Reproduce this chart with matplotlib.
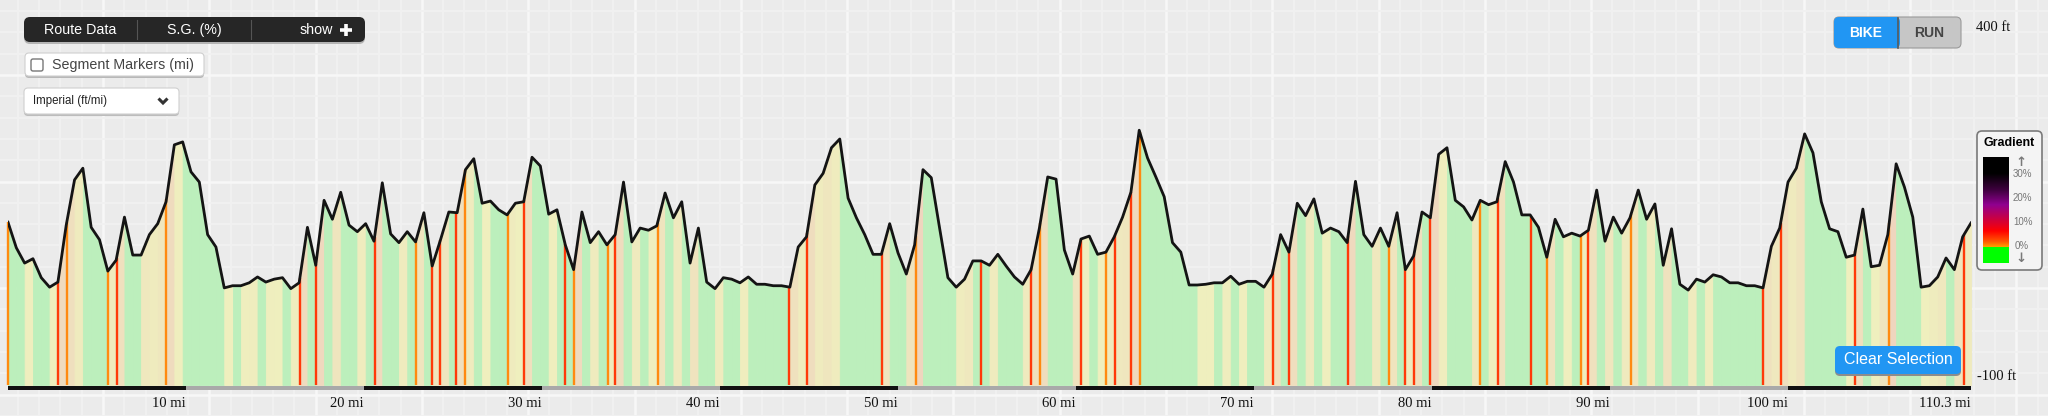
import numpy as np
import matplotlib
matplotlib.use("Agg")
import matplotlib.pyplot as plt
from matplotlib.patches import FancyBboxPatch, Rectangle
from matplotlib.colors import LinearSegmentedColormap, to_rgb

plt.rcParams['font.family'] = ['Liberation Sans', 'DejaVu Sans']
SERIF = ['Liberation Serif', 'DejaVu Serif']

# ---- data ----
total_mi = 110.3
elev_ft = [123, 88, 67, 73, 47, 34, 41, 119, 181, 197, 116, 99, 56, 71, 130, 78, 78, 106, 121, 151,
           229, 233, 192, 178, 106, 89, 33, 36, 36, 40, 48, 41, 45, 47, 32, 40, 116, 64, 153, 127,
           164, 119, 110, 121, 97, 177, 107, 95,
           110, 96, 136, 63, 99, 137, 136, 195, 210, 149, 152, 140, 133, 149, 151, 212, 200, 134, 140, 92,
           58, 137, 95, 110, 92, 106, 178, 96, 115, 112, 118, 163, 129, 151, 67, 115, 41, 32,
           47, 45, 40, 48, 38, 38, 36, 36, 34, 89, 103, 174, 190, 225, 237, 156, 129, 106, 79, 79,
           121, 81, 52, 92, 195, 184, 115, 47, 34, 45, 70, 70, 64, 79, 63, 48, 38, 58,
           115, 185, 182, 85, 52, 100, 104, 79, 82, 103, 130, 164, 249, 211, 185, 158, 95, 82, 37, 37,
           38, 40, 40, 49, 38, 42, 42, 34, 52, 106, 82, 149, 132, 155, 108, 115, 110, 95,
           179, 106, 90, 115, 90, 136, 58, 77, 137, 129, 216, 225, 153, 144, 126, 153, 147, 151, 206, 178,
           133, 133, 116, 75, 127, 103, 108, 104, 112, 167, 97, 130, 108, 129, 167, 127, 148, 64, 114,
           38, 30, 45, 41, 51, 48, 40, 40, 36, 36, 33, 90, 115, 178, 197, 244, 218, 151, 114, 110,
           75, 78, 141, 62, 64, 106, 203, 171, 130, 34, 36, 48, 74, 58, 103, 122]
dist_mi = np.linspace(0, total_mi, len(elev_ft))

steep_mi = [0.0, 2.8, 3.3, 5.6, 6.1, 8.9, 16.4, 17.3, 20.6, 22.9, 23.8, 24.3, 25.2, 25.7,
            28.1, 29.0, 31.3, 31.8, 33.7, 34.1, 36.5, 43.9, 44.9, 49.1, 51.0, 54.7,
            57.5, 58.0, 60.3, 61.7, 62.2, 63.1, 63.6, 71.1, 72.0, 75.3, 77.6, 78.5, 79.0, 79.9,
            82.7, 83.7, 85.6, 86.5, 88.4, 88.8, 91.2, 98.6, 99.6, 103.8, 105.7, 109.9]
steep_kind = list("orooro" "rrr" "orrro" "orrooro" "rrror" "rororro" "rrr" "orrr" "orrooro" "rrror")

mile_ticks = [10, 20, 30, 40, 50, 60, 70, 80, 90, 100, 110.3]
tick_labels = ['10 mi', '20 mi', '30 mi', '40 mi', '50 mi', '60 mi', '70 mi', '80 mi',
               '90 mi', '100 mi', '110.3 mi']
bar_edges = [0, 10, 20, 30, 40, 50, 60, 70, 80, 90, 100, 110.3]
y_lo, y_hi = -100, 400
legend_labels = ['30%', '20%', '10%', '0%']

# gradient colours (same scale as the legend, 0..37 %)
grad_cmap = LinearSegmentedColormap.from_list('grad', [
    (0.0, '#ffff00'), (2.5 / 37, '#ffaa00'), (5 / 37, '#ff5500'), (9 / 37, '#ff0000'),
    (13 / 37, '#d0003a'), (19 / 37, '#900090'), (25 / 37, '#3a003a'), (31 / 37, '#000000'),
    (1.0, '#000000')])
BG = np.array(to_rgb('#ebebeb'))


def tint(c, a=0.19):
    return tuple(a * np.array(to_rgb(c)[:3]) + (1 - a) * BG)


W, H = 2048, 416
fig = plt.figure(figsize=(W / 100, H / 100), dpi=100)
fig.patch.set_facecolor('#ebebeb')

# background grid over the whole page
bg = fig.add_axes([0, 0, 1, 1], zorder=0)
bg.axis('off')
for k, x in enumerate(np.arange(103 - 21.26 * 5, W, 21.26)):
    bg.axvline(x, color='#f7f7f7' if k % 5 == 0 else '#f1f1f1', lw=1.8 if k % 5 == 0 else 1.3, zorder=0)
for k, y in enumerate(np.arange(75 - 21.3 * 5, H, 21.3)):
    bg.axhline(y, color='#f7f7f7' if k % 5 == 0 else '#f1f1f1', lw=1.8 if k % 5 == 0 else 1.3, zorder=0)
bg.set_xlim(0, W)
bg.set_ylim(H, 0)

# elevation profile
ax = fig.add_axes([8 / W, (H - 385) / H, 1963 / W, 365 / H], zorder=1)
ax.patch.set_alpha(0)
ax.axis('off')
ax.set_xlim(0, total_mi)
ax.set_ylim(y_lo, y_hi)

elev = np.array(elev_ft, dtype=float)
grade = np.diff(elev) / (np.diff(dist_mi) * 5280) * 100
for i, g in enumerate(grade):
    c = tint('#00ff00', 0.2) if g <= 0 else tint(grad_cmap(min(g, 37) / 37))
    ax.fill_between(dist_mi[i:i + 2], elev[i:i + 2], y_lo, color=c, lw=0.6, ec=c)

tops = np.interp(steep_mi, dist_mi, elev)
cols = ['#ff3a0a' if k == 'r' else '#ff8a10' for k in steep_kind]
ax.vlines(steep_mi, y_lo, tops, colors=cols, lw=1.7, clip_on=False, zorder=3)
ax.plot(dist_mi, elev, color='#141414', lw=2.0, zorder=4, solid_joinstyle='round')

# distance bar and labels
for j in range(len(bar_edges) - 1):
    ax.add_patch(Rectangle((bar_edges[j], y_lo - 6.5), bar_edges[j + 1] - bar_edges[j], 5.5,
                           color='#111111' if j % 2 == 0 else '#a9a9a9', clip_on=False, lw=0))
for m, lbl in zip(mile_ticks, tick_labels):
    ax.text(m, -125, lbl, ha='right', va='center', fontsize=10.5, family=SERIF, color='#111')
ax.annotate('400 ft', xy=(total_mi, 390), xytext=(5, 0), textcoords='offset pixels',
            ha='left', va='center', fontsize=10.5, family=SERIF, color='#111', annotation_clip=False)
ax.annotate('-100 ft', xy=(total_mi, -89), xytext=(6, 0), textcoords='offset pixels',
            ha='left', va='center', fontsize=10.5, family=SERIF, color='#111', annotation_clip=False)

# ---- UI widgets ----
ui = fig.add_axes([0, 0, 1, 1], zorder=2)
ui.axis('off')
ui.patch.set_alpha(0)


def rbox(x, y, w, h, r, fc, ec='none', lw=0, z=5):
    ui.add_patch(FancyBboxPatch((x, y), w, h, boxstyle=f"round,pad=0,rounding_size={r}",
                                fc=fc, ec=ec, lw=lw, zorder=z))


BLUE = '#2196f3'
# Route data bar
rbox(24, 19, 341, 25, 6, '#b4b4b4', z=4)
rbox(24, 17, 341, 25, 6, '#262626')
for x in (137, 251):
    ui.plot([x, x], [20, 39], color='#555555', lw=0.8, zorder=6)
ui.text(80, 30, 'Route Data', ha='center', va='center', color='white', fontsize=10.3, zorder=7)
ui.text(194, 30, 'S.G. (%)', ha='center', va='center', color='white', fontsize=10.3, zorder=7)
ui.text(316, 30, 'show', ha='center', va='center', color='white', fontsize=10.3, zorder=7)
ui.plot([340, 352], [29.5, 29.5], color='white', lw=2.6, zorder=7, solid_capstyle='butt')
ui.plot([346, 346], [23.5, 35.5], color='white', lw=2.6, zorder=7, solid_capstyle='butt')

# segment markers checkbox
rbox(25, 55, 179, 23, 4, '#b8b8b8', z=4)
rbox(25, 53, 179, 23, 4, 'white', ec='#cfcfcf', lw=0.8)
rbox(31, 59, 12, 12, 2, 'white', ec='#777777', lw=1.0, z=6)
ui.text(52, 65, 'Segment Markers (mi)', ha='left', va='center', color='#444444', fontsize=10.3, zorder=7)

# unit dropdown
rbox(24, 90, 155, 26, 4, '#bcbcbc', z=4)
rbox(24, 88, 155, 26, 4, 'white', ec='#d0d0d0', lw=0.8)
ui.text(33, 101, 'Imperial (ft/mi)', ha='left', va='center', color='#222222', fontsize=8.3, zorder=7)
ui.plot([158.5, 163, 167.5], [98.5, 103, 98.5], color='#333333', lw=2.2, zorder=7,
        solid_capstyle='butt', solid_joinstyle='miter')

# bike / run toggle
rbox(1834, 17, 127, 31, 5, '#c6c6c6', ec='#9a9a9a', lw=0.8)
rbox(1834, 17, 66, 31, 5, BLUE, z=6)
ui.add_patch(Rectangle((1890, 17), 8, 31, color=BLUE, zorder=6, lw=0))
ui.plot([1898, 1898], [17.5, 47.5], color='#5a5a5a', lw=1.2, zorder=7)
ui.text(1866, 33, 'BIKE', ha='center', va='center', color='white', fontsize=10, weight='bold', zorder=8)
ui.text(1929, 33, 'RUN', ha='center', va='center', color='#444444', fontsize=10, weight='bold', zorder=8)

# gradient legend
rbox(1977, 131, 65, 139, 5, '#f4f4f4', ec='#7a7a7a', lw=1.2)
ui.text(2009.5, 143, 'Gradient', ha='center', va='center', color='black', fontsize=9, weight='bold', zorder=7)
ramp = np.linspace(37, 3, 120).reshape(-1, 1) / 37
ui.imshow(grad_cmap(ramp), extent=(1983, 2009, 247, 157), aspect='auto', zorder=6)
ui.add_patch(Rectangle((1983, 247), 26, 16, color='#00ff00', zorder=6, lw=0))
for lbl, y in zip(legend_labels, [174, 198, 222, 246]):
    ui.text(2013 if lbl != '0%' else 2015, y, lbl, ha='left', va='center', color='#777777', fontsize=7, zorder=7)
ui.text(2021, 162, '↑', ha='center', va='center', color='#7a7a7a', fontsize=9.5, weight='bold',
        family='DejaVu Sans', zorder=7)
ui.text(2021, 259, '↓', ha='center', va='center', color='#7a7a7a', fontsize=9.5, weight='bold',
        family='DejaVu Sans', zorder=7)

# clear selection button
rbox(1835, 348, 126, 28, 5, '#8c8c8c', z=4)
rbox(1835, 346, 126, 28, 5, BLUE)
ui.text(1898, 360, 'Clear Selection', ha='center', va='center', color='white', fontsize=11.5, zorder=7)

ui.set_xlim(0, W)
ui.set_ylim(H, 0)

fig.savefig('out.png', dpi=100, facecolor=fig.get_facecolor())
